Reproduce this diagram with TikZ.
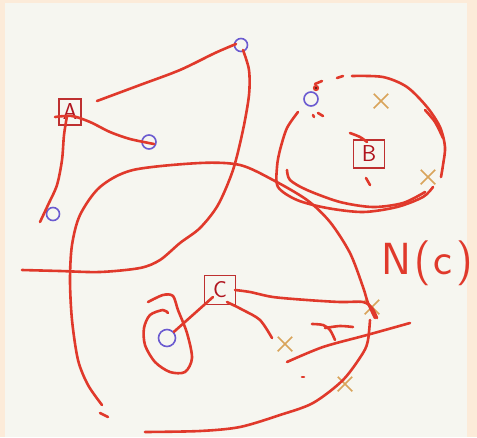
\documentclass[tikz,border=0pt]{standalone}
\usetikzlibrary{shapes.misc}
\definecolor{pen}{HTML}{E0392B}
\definecolor{boxc}{HTML}{BE3030}
\definecolor{letc}{HTML}{B0141E}
\definecolor{ringc}{HTML}{6B5BD0}
\definecolor{tanc}{HTML}{D9A45A}
\definecolor{peach}{HTML}{FCEBD9}
\definecolor{paper}{HTML}{F6F6F0}
\tikzset{
  stroke/.style={draw=pen, line width=2.6pt, line cap=round, line join=round},
  ring/.style={circle, draw=ringc, line width=1.6pt, minimum size=13pt, inner sep=0pt},
  xmark/.style={cross out, draw=tanc, line width=1.5pt, minimum size=13pt, inner sep=0pt},
  labelbox/.style={draw=boxc, line width=1.3pt, text=letc, inner sep=0pt, font=\sffamily\fontsize{23}{23}\selectfont},
}
\begin{document}
\begin{tikzpicture}[x=1pt,y=-1pt]
\fill[peach] (0,0) rectangle (477,437);
\fill[paper] (5,3) rectangle (467,437);
\useasboundingbox (0,0) rectangle (477,437);

% label boxes
\node[labelbox, minimum width=22pt, minimum height=26pt] (A) at (70,112) {A};
\node[labelbox, minimum width=31pt, minimum height=28pt] (B) at (369,154) {B};
\node[labelbox, minimum width=31pt, minimum height=29pt] (C) at (220,290) {C};

% rings
\node[ring] (r1) at (241,45) {};
\node[ring, minimum size=14pt] (r2) at (149,142) {};
\node[ring] (r3) at (53,214) {};
\node[ring, minimum size=14pt] (r4) at (311,99) {};
\node[ring, minimum size=17pt] (r5) at (167,338) {};

% crosses
\node[xmark] (x1) at (381,101) {};
\node[xmark] (x2) at (428,177) {};
\node[xmark] (x3) at (372,307) {};
\node[xmark] (x4) at (285,344) {};
\node[xmark] (x5) at (345,384) {};

% strokes around A
\draw[stroke] plot[smooth] coordinates {(97,101) (140,85) (180,70) (215,53) (236,44)};
\draw[stroke] plot[smooth] coordinates {(55,117) (72,116) (90,122) (110,132) (130,139) (154,144)};
\draw[stroke] plot[smooth] coordinates {(67,116) (64,135) (62,160) (57,185) (48,205) (40,222)};

% long curve from top ring
\draw[stroke] plot[smooth] coordinates {(243,50) (249,70) (249,95) (243,130) (233,170) (218,205) (200,228) (180,243) (160,260) (140,268) (100,272) (60,271) (22,270)};

% big loop
\draw[stroke] plot[smooth] coordinates {(102,405) (88,385) (78,360) (72,320) (70,280) (72,245) (80,215) (100,187) (133,170) (200,163) (240,165) (273,180) (307,200) (330,222) (350,253) (363,287) (368,303) (375,318)};
\draw[stroke] plot[smooth] coordinates {(370,320) (368,340) (363,353) (343,380) (313,403) (280,415) (240,427) (200,431) (145,432)};
\draw[stroke] (100,413) -- (108,417);

% B loop
\draw[stroke] plot[smooth] coordinates {(298,112) (287,128) (280,150) (277,167) (278,187) (297,200) (327,208) (363,212) (397,207) (423,197) (433,187)};
\draw[stroke] plot[smooth] coordinates {(287,170) (290,180) (307,190) (340,202) (373,207) (403,203) (425,192)};
\draw[stroke] (315,84) -- (322,81);
\draw[stroke] (337,78) -- (343,76);
\draw[stroke] plot[smooth] coordinates {(352,76) (383,77) (407,87) (427,107) (440,127) (445,147) (443,165) (441,177)};
\draw[stroke] plot[smooth] coordinates {(425,110) (435,122) (443,138)};
\draw[stroke] (313,115) -- (314,117);
\draw[stroke] (318,113) -- (323,116);
\draw[stroke] plot[smooth] coordinates {(350,133) (360,137) (367,142)};
\draw[stroke] (366,178) -- (370,185);
\fill[pen] (316,88) circle (3.2pt);
\fill[black] (316,88) circle (0.9pt);

% C strokes
\draw[stroke] (213,297) -- (r5);
\draw[stroke] plot[smooth] coordinates {(148,302) (163,295) (173,296) (178,310) (187,333) (192,358) (185,372) (170,372) (155,362) (145,345) (144,328) (150,315) (163,310) (168,313)};
\draw[stroke] plot[smooth] coordinates {(235,290) (250,292) (273,297) (307,300) (340,302) (363,302) (372,308) (377,318)};
\draw[stroke] plot[smooth] coordinates {(227,302) (243,310) (260,320) (272,338)};

% misc strokes lower right
\draw[stroke] plot[smooth] coordinates {(312,324) (323,325) (330,330) (335,340)};
\draw[stroke] plot[smooth] coordinates {(325,328) (340,326) (353,327)};
\draw[stroke] plot[smooth] coordinates {(287,362) (323,347) (367,335) (410,323)};
\draw[stroke] (302,377) -- (304,377);

% N(c) label
\node[text=pen, font=\sffamily\fontsize{45}{45}\selectfont, inner sep=0pt, anchor=base west] (Nc) at (381,274) {N\kern3pt(\kern3pt c\kern4pt)};
\end{tikzpicture}
\end{document}
